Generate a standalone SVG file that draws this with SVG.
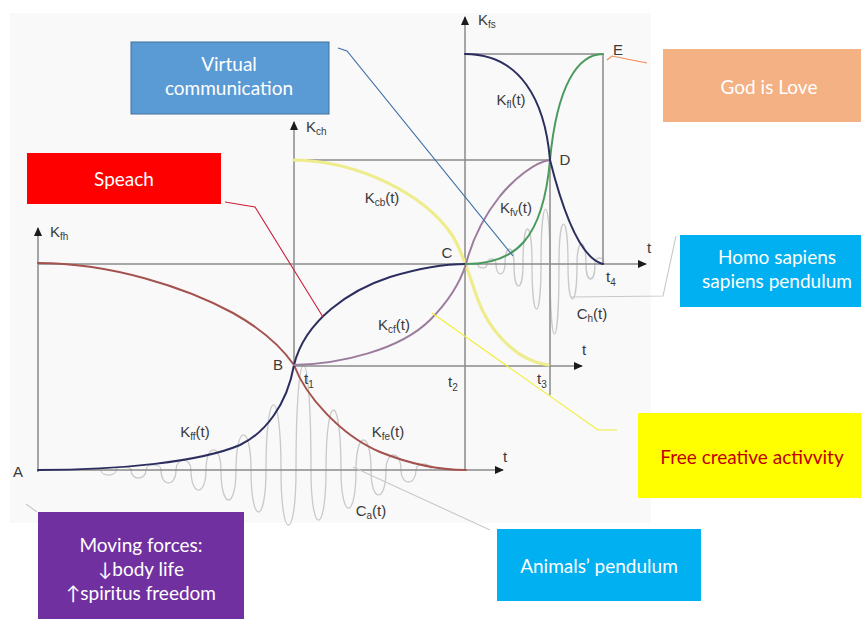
<svg xmlns="http://www.w3.org/2000/svg" width="861" height="619" viewBox="0 0 861 619">
<defs>
<style>
.ax{stroke:#8a8a8a;stroke-width:1.5;fill:none}
.pend{stroke:#c9c9c9;stroke-width:1.3;fill:none}
.cv{fill:none;stroke-width:2;stroke-linecap:round}
.navy{stroke:#2b2e5e}
.brown{stroke:#a4524e}
.purp{stroke:#9c7c9c}
.green{stroke:#4a9a5e}
.yel{stroke:#eeec8c;stroke-width:3.2}
.lb{font-family:"Liberation Sans",Arial,sans-serif;font-size:15px;fill:#3a3a3a}
.sb{font-size:10px}
.bx{font-family:Lato,"Noto Sans","DejaVu Sans",sans-serif;font-size:19px;text-anchor:middle;fill:#ffffff}
.con{fill:none;stroke-width:1.1}
</style>
<marker id="ah" viewBox="0 0 10 10" refX="9" refY="5" markerWidth="9" markerHeight="9" markerUnits="userSpaceOnUse" orient="auto">
<path d="M0,0.5 L10,5 L0,9.5 z" fill="#1a1a1a"/>
</marker>
</defs>
<rect x="0" y="0" width="861" height="619" fill="#ffffff"/>
<rect x="10" y="13" width="641" height="510" fill="#f9f9f9"/>

<g id="plot">
<path class="pend" d="M101,470 C101,476.7 116,476.7 116,470 C116,466 131,466 131,470 C131,480.7 146,480.7 146,470 C146,463.3 161,463.3 161,470 C161,487.3 176,487.3 176,470 C176,456.7 191,456.7 191,470 C191,496.7 206,496.7 206,470 C206,443.3 221,443.3 221,470 C221,510 236,510 236,470 C236,423.3 251,423.3 251,470 C251,526 266,526 266,470 C266,383.3 281,383.3 281,470 C281,543.3 296,543.3 296,470 C296,330 311,330 311,470 C311,536.7 326,536.7 326,470 C326,390 341,390 341,470 C341,520.7 356,520.7 356,470 C356,430 371,430 371,470 C371,503.3 386,503.3 386,470 C386,450 401,450 401,470 C401,486 416,486 416,470 C416,462 431,462 431,470"/>
<path class="pend" d="M478,264 C478,269.3 487,269.3 487,264 C487,257.3 496,257.3 496,264 C496,277.3 505,277.3 505,264 C505,244 514,244 514,264 C514,293.3 523,293.3 523,264 C523,217.3 532,217.3 532,264 C532,324 541,324 541,264 C541,190.7 550,190.7 550,264 C550,357.3 559,357.3 559,264 C559,210.7 568,210.7 568,264 C568,310.7 577,310.7 577,264 C577,237.3 586,237.3 586,264 C586,284 595,284 595,264 C595,256 604,256 604,264"/>

<line class="ax" x1="38" y1="472" x2="38" y2="228" marker-end="url(#ah)"/>
<line class="ax" x1="38" y1="470" x2="503" y2="470" marker-end="url(#ah)"/>
<line class="ax" x1="294" y1="366" x2="294" y2="122" marker-end="url(#ah)"/>
<line class="ax" x1="294" y1="366" x2="582" y2="366" marker-end="url(#ah)"/>
<line class="ax" x1="465" y1="470" x2="465" y2="17" marker-end="url(#ah)"/>
<line class="ax" x1="38" y1="264" x2="646" y2="264" marker-end="url(#ah)"/>
<line class="ax" x1="294" y1="160" x2="550" y2="160"/>
<line class="ax" x1="465" y1="54" x2="603" y2="54"/>
<line class="ax" x1="603" y1="54" x2="603" y2="264"/>
<line class="ax" x1="550" y1="160" x2="550" y2="395"/>

<path class="cv yel" d="M294,160 C360,161 425,195 452,235 C462,250 469,275 478,300 C487,325 512,360 548,365"/>
<path class="cv brown" d="M38,263 C110,263 185,287 233,313 C258,327 280,345 294,365 C305,395 340,435 380,452 C410,464 440,470 466,470"/>
<path class="cv navy" d="M38,470 C120,470 200,462 240,445 C265,433 287,405 294,365 C305,320 350,290 390,277 C420,268 445,264 466,264"/>
<path class="cv purp" d="M294,365 C340,364 400,350 430,320 C450,300 460,283 466,264 C472,240 485,215 500,196 C515,178 535,162 550,160"/>
<path class="cv green" d="M466,264 C515,264 543,240 550,160 C557,85 578,54 603,54"/>
<path class="cv navy" d="M465,54 C520,54 545,100 550,160 C560,200 578,258 603,264"/>

<text class="lb" x="50" y="237">K<tspan class="sb" dy="3">fh</tspan></text>
<text class="lb" x="306" y="132">K<tspan class="sb" dy="3">ch</tspan></text>
<text class="lb" x="478" y="25">K<tspan class="sb" dy="3">fs</tspan></text>
<text class="lb" x="18" y="477" text-anchor="middle">A</text>
<text class="lb" x="278" y="370" text-anchor="middle">B</text>
<text class="lb" x="447" y="258" text-anchor="middle">C</text>
<text class="lb" x="565" y="165" text-anchor="middle">D</text>
<text class="lb" x="618" y="55" text-anchor="middle">E</text>
<text class="lb" x="505" y="462" text-anchor="middle">t</text>
<text class="lb" x="584" y="355" text-anchor="middle">t</text>
<text class="lb" x="649" y="253" text-anchor="middle">t</text>
<text class="lb" x="304" y="384">t<tspan class="sb" dy="4">1</tspan></text>
<text class="lb" x="448" y="387">t<tspan class="sb" dy="4">2</tspan></text>
<text class="lb" x="537" y="384">t<tspan class="sb" dy="4">3</tspan></text>
<text class="lb" x="606" y="282">t<tspan class="sb" dy="4">4</tspan></text>
<text class="lb" x="195" y="437" text-anchor="middle">K<tspan class="sb" dy="3">ff</tspan><tspan dy="-3">(t)</tspan></text>
<text class="lb" x="388" y="437" text-anchor="middle">K<tspan class="sb" dy="3">fe</tspan><tspan dy="-3">(t)</tspan></text>
<text class="lb" x="394" y="330" text-anchor="middle">K<tspan class="sb" dy="3">cf</tspan><tspan dy="-3">(t)</tspan></text>
<text class="lb" x="382" y="203" text-anchor="middle">K<tspan class="sb" dy="3">cb</tspan><tspan dy="-3">(t)</tspan></text>
<text class="lb" x="511" y="105" text-anchor="middle">K<tspan class="sb" dy="3">fl</tspan><tspan dy="-3">(t)</tspan></text>
<text class="lb" x="516" y="213" text-anchor="middle">K<tspan class="sb" dy="3">fv</tspan><tspan dy="-3">(t)</tspan></text>
<text class="lb" x="371" y="516" text-anchor="middle">C<tspan class="sb" dy="3">a</tspan><tspan dy="-3">(t)</tspan></text>
<text class="lb" x="592" y="319" text-anchor="middle">C<tspan class="sb" dy="3">h</tspan><tspan dy="-3">(t)</tspan></text>
</g>

<g id="connectors">
<polyline class="con" stroke="#cc1f3a" points="225,202 255,207 323,317"/>
<polyline class="con" stroke="#3d6fa8" points="338,48 347,51 513,256"/>
<polyline class="con" stroke="#f08a50" points="607,60 612,56 647,63"/>
<polyline class="con" stroke="#c8c8c8" points="571,297 663,296 676,236"/>
<polyline class="con" stroke="#f2ee3a" points="432,313 598,430 617,430"/>
<line class="con" stroke="#c8c8c8" x1="353" y1="467" x2="490" y2="530"/>
<line class="con" stroke="#c8c8c8" x1="26" y1="504" x2="37" y2="512"/>
</g>

<g id="virtual">
<rect x="131" y="42" width="198" height="72" fill="#5b9bd5" stroke="#41719c" stroke-width="1"/>
<text class="bx" x="229" y="71">Virtual</text>
<text class="bx" x="229" y="95">communication</text>
</g>
<g id="speach">
<rect x="27" y="153" width="194" height="51" fill="#ff0000"/>
<text class="bx" x="124" y="186">Speach</text>
</g>
<g id="god">
<rect x="663" y="49" width="198" height="73" fill="#f4b183"/>
<text class="bx" x="769" y="94">God is Love</text>
</g>
<g id="homo">
<rect x="680" y="235" width="181" height="72" fill="#00b0f0"/>
<text class="bx" x="777" y="264">Homo sapiens</text>
<text class="bx" x="777" y="288">sapiens pendulum</text>
</g>
<g id="free">
<rect x="638" y="413" width="223" height="85" fill="#ffff00"/>
<text class="bx" x="752" y="464" style="fill:#c00000">Free creative activvity</text>
</g>
<g id="moving">
<rect x="38" y="512" width="206" height="107" fill="#7030a0"/>
<text class="bx" x="141" y="552">Moving forces:</text>
<text class="bx" x="141" y="576">↓body life</text>
<text class="bx" x="141" y="600">↑spiritus freedom</text>
</g>
<g id="animals">
<rect x="497" y="529" width="204" height="72" fill="#00b0f0"/>
<text class="bx" x="599" y="573">Animals’ pendulum</text>
</g>
</svg>
